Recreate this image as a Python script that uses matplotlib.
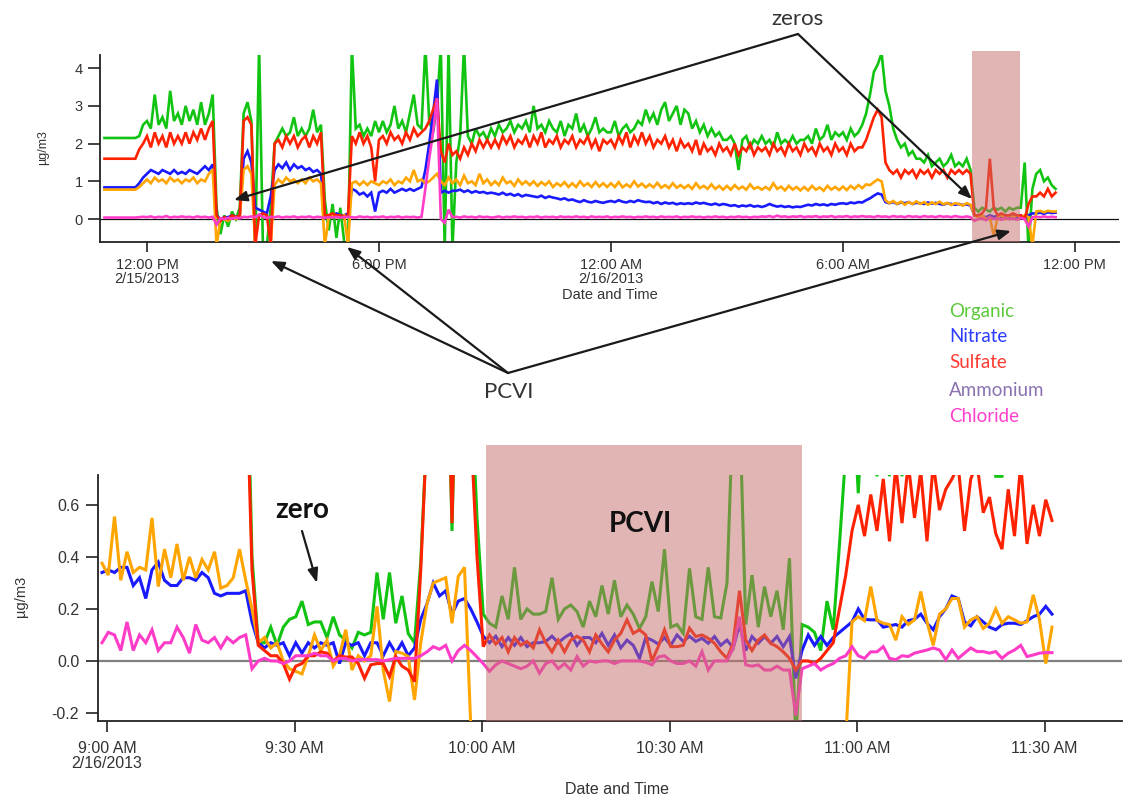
import numpy as np
import matplotlib
matplotlib.use("Agg")
import matplotlib.pyplot as plt

# ---------------- data: top panel (hours after 12:00 PM 2/15/2013, 0.1 h steps) ----------------
top_t0 = -1.1
top_step = 0.1
top_organic = [
    2.15, 2.15, 2.15, 2.15, 2.15, 2.15, 2.15, 2.15, 2.15, 2.2, 2.5,
    2.6, 2.4, 3.3, 2.5, 2.7, 2.4, 3.4, 2.6, 2.8, 2.5,
    3.0, 2.6, 2.9, 2.5, 3.1, 2.5, 2.8, 3.3, 0.3, -0.4,
    0.1, -0.2, 0.2, 0.0, 0.3, 2.8, 3.1, 2.6, -0.8, 4.6,
    -0.8, -0.7, 0.3, 2.0, 2.2, 2.4, 2.2, 2.3, 2.7, 2.2,
    2.4, 2.2, 2.4, 2.9, 2.3, 2.5, 0.5, -0.3, 0.4, -0.5,
    0.3, -0.6, -0.7, 4.6, 2.4, 2.5, 2.2, 2.4, 2.2, 2.6,
    2.3, 2.6, 2.3, 2.5, 3.0, 2.4, 2.6, 2.3, 2.8, 3.3,
    2.5, 2.4, 4.6, 2.6, 2.3, 3.0, 4.6, -0.8, 4.6, -0.8,
    1.5, 2.2, 4.6, 2.2, 2.0, 2.4, 2.2, 2.3, 2.1, 2.4,
    2.2, 2.5, 2.3, 2.4, 2.6, 2.3, 2.5, 2.4, 2.6, 2.3,
    3.0, 2.4, 2.5, 2.3, 2.6, 2.4, 2.3, 2.6, 2.2, 2.5,
    2.4, 2.8, 2.3, 2.5, 2.2, 2.4, 2.7, 2.3, 2.4, 2.3,
    2.3, 2.6, 2.2, 2.4, 2.5, 2.3, 2.4, 2.6, 2.5, 2.9,
    2.6, 2.8, 2.5, 2.9, 3.1, 2.6, 2.8, 3.0, 2.5, 2.9,
    2.8, 2.4, 2.6, 2.3, 2.5, 2.2, 2.4, 2.2, 2.3, 2.1,
    2.1, 2.2, 2.0, 1.3, 2.1, 2.2, 1.9, 2.1, 2.0, 2.2,
    2.0, 2.1, 1.9, 2.3, 2.0, 2.1, 2.0, 2.2, 2.0, 2.1,
    2.1, 2.2, 2.0, 2.4, 2.1, 2.2, 2.5, 2.1, 2.3, 2.2,
    2.3, 2.1, 2.4, 2.2, 2.3, 2.5, 2.8, 3.3, 3.9, 4.1,
    4.4, 3.4, 3.0, 2.4, 2.1, 1.9, 2.0, 1.7, 1.8, 1.6,
    1.6, 1.5, 1.7, 1.4, 1.5, 1.6, 1.4, 1.5, 1.7, 1.4,
    1.5, 1.4, 1.6, 1.3, 0.3, 0.2, 0.3, 0.25, 0.2, 0.3,
    0.25, 0.3, 0.2, 0.3, 0.25, 0.3, 0.3, 1.5, -0.8, 0.8,
    1.2, 1.3, 1.0, 1.1, 0.9, 0.8,
]
top_nitrate = [
    0.84, 0.84, 0.84, 0.84, 0.84, 0.84, 0.84, 0.84, 0.84, 0.95, 1.1,
    1.2, 1.3, 1.25, 1.2, 1.3, 1.25, 1.2, 1.3, 1.2, 1.25,
    1.2, 1.3, 1.25, 1.2, 1.3, 1.4, 1.3, 1.45, 0.1, 0.0,
    0.05, 0.05, 0.1, 0.05, 0.1, 1.6, 1.8, 1.5, 0.3, 0.25,
    0.2, 0.15, 0.6, 1.3, 1.45, 1.35, 1.5, 1.3, 1.45, 1.35,
    1.4, 1.3, 1.35, 1.25, 1.3, 1.2, 0.1, 0.1, 0.1, 0.15,
    0.1, 0.1, 0.15, 0.8, 0.75, 0.65, 0.7, 0.6, 0.7, 0.2,
    0.7, 0.75, 0.7, 0.8, 0.7, 0.75, 0.8, 0.75, 0.8, 0.75,
    0.8, 0.85, 1.3, 2.0, 2.8, 3.7, 0.7, 0.75, 0.7, 0.75,
    0.75, 0.78, 0.72, 0.76, 0.7, 0.74, 0.7, 0.72, 0.68, 0.7,
    0.68, 0.65, 0.7, 0.64, 0.67, 0.62, 0.66, 0.6, 0.64, 0.62,
    0.6, 0.58, 0.62, 0.56, 0.6, 0.57, 0.55, 0.52, 0.55, 0.5,
    0.52, 0.48, 0.45, 0.5, 0.46, 0.44, 0.48, 0.45, 0.43, 0.46,
    0.48, 0.45, 0.5, 0.46, 0.44, 0.48, 0.45, 0.5, 0.47, 0.45,
    0.46, 0.42, 0.45, 0.4, 0.44, 0.41, 0.43, 0.39, 0.42, 0.4,
    0.42, 0.4, 0.44, 0.41, 0.43, 0.4, 0.38, 0.41, 0.37, 0.4,
    0.38, 0.35, 0.37, 0.33, 0.36, 0.34, 0.37, 0.33, 0.35, 0.32,
    0.35, 0.4, 0.36, 0.33, 0.35, 0.32, 0.34, 0.31, 0.33, 0.32,
    0.35, 0.38, 0.36, 0.4, 0.37, 0.39, 0.36, 0.4, 0.38, 0.41,
    0.42, 0.4, 0.44, 0.42, 0.45, 0.44, 0.5, 0.55, 0.62, 0.68,
    0.65, 0.45, 0.42, 0.45, 0.4, 0.44, 0.42, 0.45, 0.4, 0.43,
    0.42, 0.4, 0.44, 0.41, 0.43, 0.4, 0.38, 0.42, 0.4, 0.38,
    0.4, 0.37, 0.39, 0.36, 0.1, 0.05, 0.08, 0.05, 0.1, 0.06,
    0.08, 0.05, 0.1, 0.06, 0.08, 0.05, 0.1, 0.0, 0.1, 0.15,
    0.15, 0.17, 0.14, 0.18, 0.16, 0.17,
]
top_sulfate = [
    1.6, 1.6, 1.6, 1.6, 1.6, 1.6, 1.6, 1.6, 1.6, 1.85, 2.0,
    2.2, 1.9, 2.3, 2.0, 2.2, 1.9, 2.3, 2.0, 2.2, 2.0,
    2.3, 2.0, 2.3, 2.1, 2.4, 2.1, 2.4, 2.6, 0.1, -0.05,
    0.05, 0.0, 0.1, 0.05, 0.1, 2.6, 2.7, 2.5, -0.7, 0.1,
    0.15, 0.1, -0.7, 2.0, 2.1, 1.9, 2.2, 2.0, 2.2, 1.9,
    2.1, 2.2, 1.9, 2.2, 2.0, 2.3, 0.1, 0.1, 0.15, 0.1,
    0.1, 0.05, 0.1, 2.2, 2.0, 2.3, 2.0, 2.2, 1.9, 1.0,
    2.1, 2.2, 2.0, 2.3, 2.1, 2.2, 2.0, 2.3, 2.1, 2.4,
    2.2, 2.3, 2.4, 2.6, 2.9, 3.2, 1.8, 1.5, 2.0, 1.7,
    1.8, 1.6, 1.9, 1.7, 2.0, 1.8, 2.1, 1.9, 2.1, 1.9,
    2.1, 1.9, 2.2, 2.0, 2.2, 1.9, 2.1, 2.0, 2.2, 1.9,
    2.2, 2.0, 2.3, 1.9, 2.1, 2.0, 2.2, 1.9, 2.1, 2.0,
    2.2, 1.9, 2.1, 2.0, 2.2, 1.9, 2.1, 1.8, 2.1, 2.0,
    2.1, 1.9, 2.2, 2.0, 2.3, 1.9, 2.2, 2.0, 2.3, 2.0,
    2.2, 1.9, 2.1, 2.0, 2.2, 1.9, 2.1, 1.8, 2.1, 1.9,
    2.0, 1.8, 2.1, 1.7, 2.0, 1.8, 1.9, 1.7, 2.0, 1.8,
    1.9, 1.7, 2.0, 1.7, 1.9, 1.8, 2.0, 1.7, 1.9, 1.8,
    1.9, 1.7, 2.0, 1.8, 1.9, 1.7, 2.0, 1.8, 1.9, 1.7,
    2.0, 1.8, 1.9, 1.7, 2.0, 1.8, 1.9, 1.7, 2.0, 1.8,
    1.9, 1.7, 2.0, 1.8, 1.9, 1.9, 2.1, 2.4, 2.7, 2.9,
    2.7, 1.5, 1.3, 1.2, 1.3, 1.1, 1.3, 1.2, 1.3, 1.1,
    1.3, 1.2, 1.3, 1.1, 1.3, 1.2, 1.3, 1.1, 1.3, 1.2,
    1.3, 1.2, 1.3, 1.2, 0.1, 0.1, 0.15, 0.3, 1.6, 0.3,
    0.1, 0.15, 0.1, 0.1, 0.15, 0.1, 0.1, 0.0, 0.4, 0.6,
    0.6, 0.7, 0.6, 0.8, 0.6, 0.7,
]
top_ammonium = [
    0.78, 0.78, 0.78, 0.78, 0.78, 0.78, 0.78, 0.78, 0.78, 0.85, 0.95,
    1.05, 0.95, 1.1, 1.0, 1.05, 0.95, 1.1, 1.0, 1.05, 0.95,
    1.05, 1.0, 1.1, 0.95, 1.05, 1.0, 1.2, 1.3, -0.7, 0.0,
    0.0, -0.05, 0.05, 0.0, 0.05, 1.3, 1.4, 1.2, -0.7, -0.8,
    -0.8, -0.8, -0.7, 0.9, 1.05, 0.95, 1.1, 1.0, 1.05, 0.95,
    1.05, 0.95, 1.1, 1.0, 1.05, 0.95, -0.7, 0.05, 0.1, 0.05,
    0.05, 0.1, -0.7, 0.95, 1.0, 0.9, 1.0, 0.9, 1.0, 0.95,
    0.9, 1.0, 0.95, 1.05, 0.9, 1.0, 0.95, 1.1, 1.0, 1.3,
    1.0, 1.05, 0.95, 1.0, 1.1, 1.2, 1.0, 0.9, 1.1, 0.95,
    1.05, 0.9, 1.15, 0.95, 1.0, 0.9, 1.2, 0.95, 1.05, 0.9,
    1.0, 0.9, 1.1, 0.95, 1.0, 0.88, 1.05, 0.92, 1.0, 0.9,
    1.0, 0.88, 0.98, 0.9, 1.0, 0.85, 0.95, 0.88, 0.98, 0.85,
    0.95, 0.85, 1.0, 0.88, 0.95, 0.85, 0.98, 0.86, 0.95, 0.85,
    0.95, 0.85, 0.98, 0.84, 0.92, 0.85, 1.0, 0.86, 0.94, 0.84,
    0.92, 0.84, 0.96, 0.83, 0.9, 0.82, 0.95, 0.83, 0.9, 0.82,
    0.9, 0.8, 0.95, 0.82, 0.88, 0.8, 0.92, 0.8, 0.88, 0.78,
    0.88, 0.78, 0.9, 0.8, 0.86, 0.78, 0.92, 0.8, 0.85, 0.78,
    0.85, 0.78, 0.95, 0.8, 0.86, 0.76, 0.88, 0.78, 0.85, 0.76,
    0.85, 0.76, 0.88, 0.78, 0.84, 0.75, 0.88, 0.78, 0.85, 0.77,
    0.86, 0.77, 0.88, 0.8, 0.9, 0.82, 0.92, 0.9, 0.98, 1.05,
    1.0, 0.5, 0.42, 0.48, 0.4, 0.46, 0.38, 0.45, 0.4, 0.47,
    0.4, 0.45, 0.38, 0.44, 0.4, 0.46, 0.39, 0.43, 0.37, 0.42,
    0.4, 0.36, 0.42, 0.38, 0.1, 0.05, 0.1, 0.0, 0.05, -0.45,
    0.05, 0.1, 0.0, 0.1, 0.05, 0.1, 0.05, 0.1, 0.05, -0.7,
    0.2, 0.22, 0.18, 0.22, 0.2, 0.2,
]
top_chloride = [
    0.04, 0.04, 0.04, 0.04, 0.04, 0.04, 0.04, 0.04, 0.04, 0.05, 0.06,
    0.05, 0.07, 0.04, 0.06, 0.05, 0.08, 0.04, 0.06, 0.05, 0.07,
    0.05, 0.06, 0.04, 0.07, 0.05, 0.06, 0.04, 0.06, -0.15, 0.02,
    0.0, 0.03, 0.01, 0.04, 0.02, 0.06, 0.05, 0.07, 0.05, 0.12,
    0.05, 0.03, 0.06, 0.05, 0.07, 0.04, 0.06, 0.05, 0.07, 0.04,
    0.06, 0.05, 0.07, 0.04, 0.06, 0.05, 0.03, 0.05, 0.04, 0.06,
    0.04, 0.05, 0.06, 0.05, 0.04, 0.07, 0.05, 0.06, 0.04, 0.06,
    0.05, 0.07, 0.04, 0.06, 0.05, 0.07, 0.04, 0.06, 0.05, 0.06,
    0.04, 0.06, 0.8, 1.6, 2.3, 3.2, 0.0, -0.1, 0.25, 0.05,
    0.06, 0.04, 0.07, 0.05, 0.06, 0.04, 0.07, 0.05, 0.06, 0.04,
    0.05, 0.07, 0.04, 0.06, 0.05, 0.07, 0.05, 0.06, 0.04, 0.06,
    0.05, 0.07, 0.04, 0.06, 0.05, 0.06, 0.04, 0.07, 0.05, 0.06,
    0.05, 0.07, 0.05, 0.06, 0.04, 0.07, 0.05, 0.06, 0.05, 0.07,
    0.04, 0.06, 0.05, 0.07, 0.05, 0.06, 0.04, 0.06, 0.05, 0.07,
    0.05, 0.06, 0.04, 0.07, 0.05, 0.06, 0.05, 0.07, 0.04, 0.06,
    0.05, 0.07, 0.05, 0.06, 0.04, 0.06, 0.05, 0.07, 0.05, 0.06,
    0.04, 0.06, 0.05, 0.07, 0.05, 0.06, 0.04, 0.06, 0.05, 0.07,
    0.06, 0.08, 0.05, 0.09, 0.06, 0.07, 0.05, 0.07, 0.06, 0.08,
    0.05, 0.07, 0.06, 0.08, 0.05, 0.07, 0.06, 0.08, 0.05, 0.07,
    0.06, 0.08, 0.05, 0.07, 0.06, 0.08, 0.06, 0.07, 0.05, 0.08,
    0.06, 0.07, 0.05, 0.08, 0.06, 0.07, 0.05, 0.08, 0.06, 0.07,
    0.05, 0.08, 0.06, 0.07, 0.05, 0.08, 0.06, 0.07, 0.05, 0.08,
    0.06, 0.05, 0.07, 0.05, -0.05, 0.0, 0.02, -0.03, 0.05, 0.0,
    0.02, -0.02, 0.03, 0.0, 0.02, -0.02, 0.03, 0.0, -0.2, 0.05,
    0.06, 0.05, 0.07, 0.05, 0.06, 0.05,
]
top_tick_hours = [0, 6, 12, 18, 24]
top_tick_labels = ["12:00 PM\n2/15/2013", "6:00 PM", "12:00 AM\n2/16/2013", "6:00 AM", "12:00 PM"]
top_yticks = [0, 1, 2, 3, 4]
top_shade_hours = (21.34, 22.58)

# ---------------- data: bottom panel (minutes after 9:00 AM 2/16/2013, 1 min steps) ----------------
bot_t0 = -0.8
bot_step = 1.0
nan = float("nan")
bot_organic = [
    1.4, 1.4, 1.4, 1.4, 1.4, 1.4, 1.4, 1.4, 1.4, 1.4, 1.4, 1.4, 1.4, 1.4, 1.4, 1.4, 1.4, 1.4, 1.4, 1.4, 1.4, 1.4, 1.4, 1.4,
    0.4, 0.07, 0.07, 0.13, 0.06, 0.13, 0.16, 0.17, 0.23, 0.14, 0.15, 0.15, 0.09, 0.17, 0.1,
    0.08, 0.05, 0.11, 0.1, 0.11, 0.34, 0.16, 0.34, 0.145, 0.25, 0.105, 0.07, 0.38, 0.9, 1.5, 1.5, 1.5, 0.5, 1.5, 1.5, 1.1, 0.55,
    0.18, 0.145, 0.13, 0.25, 0.16, 0.36, 0.16, 0.2, 0.18, 0.18, 0.19, 0.32, 0.16, 0.2, 0.215, 0.19, 0.13,
    0.23, 0.17, 0.29, 0.18, 0.31, 0.17, 0.215, 0.18, 0.125, 0.17, 0.305, 0.19, 0.43, 0.13, 0.14, 0.106, 0.356, 0.17,
    0.16, 0.36, 0.17, 0.165, 0.3, 1.0, 1.0, 0.14, 0.33, 0.13, 0.286, 0.17, 0.27, 0.12, 0.395, -0.3, 0.14,
    0.13, 0.11, 0.04, 0.23, 0.12, 0.45, 0.8, 1.1, 0.645, 1.1, 0.9, 0.71, 1.0, 0.71, 1.1, 0.71, 1.0, 1.2, 1.0, 1.1,
    1.3, 1.0, 1.2, 1.1, 1.3, 1.0, 1.2, 1.1, 1.0, 1.2, 0.71, 0.71, 1.1, 1.0, 1.2, 1.0, 1.1, 1.0, 1.2, 1.1,
]
bot_nitrate = [
    0.34, 0.35, 0.34, 0.36, 0.36, 0.29, 0.32, 0.24, 0.35, 0.38, 0.31, 0.29, 0.29, 0.32, 0.32, 0.31, 0.34, 0.32, 0.26, 0.25, 0.26, 0.26, 0.26, 0.27,
    0.15, 0.07, 0.05, 0.07, 0.06, 0.07, 0.02, 0.07, 0.03, 0.07, 0.05, 0.07, 0.06, 0.07, -0.01,
    0.07, 0.06, 0.07, 0.02, 0.07, 0.07, 0.02, 0.07, 0.03, 0.07, 0.02, 0.05, 0.16, 0.22, 0.3, 0.25, 0.27, 0.18, 0.23, 0.24, 0.2, 0.15,
    0.095, 0.07, 0.095, 0.055, 0.09, 0.06, 0.09, 0.055, 0.07, 0.07, 0.075, 0.095, 0.07, 0.09, 0.105, 0.06, 0.09,
    0.09, 0.07, 0.106, 0.06, 0.1, 0.05, 0.08, 0.06, 0.01, 0.09, 0.08, 0.065, 0.09, 0.06, 0.1, 0.075, 0.095, 0.075,
    0.087, 0.068, 0.094, 0.06, 0.08, 0.05, 0.14, 0.04, 0.094, 0.068, 0.094, 0.068, 0.094, 0.055, 0.094, -0.067, 0.04,
    0.1, 0.06, 0.094, 0.06, 0.09, 0.11, 0.13, 0.15, 0.2, 0.16, 0.158, 0.158, 0.13, 0.135, 0.14, 0.13, 0.155, 0.16, 0.18, 0.145,
    0.12, 0.17, 0.2, 0.25, 0.24, 0.15, 0.135, 0.17, 0.15, 0.13, 0.12, 0.14, 0.145, 0.145, 0.14, 0.155, 0.17, 0.18, 0.21, 0.18,
]
bot_sulfate = [
    1.2, 1.2, 1.2, 1.2, 1.2, 1.2, 1.2, 1.2, 1.2, 1.2, 1.2, 1.2, 1.2, 1.2, 1.2, 1.2, 1.2, 1.2, 1.2, 1.2, 1.2, 1.2, 1.2, 1.2,
    0.35, 0.06, 0.04, 0.02, 0.02, -0.01, -0.07, -0.02, -0.01, 0.02, 0.02, 0.035, 0.03, 0.0, 0.02,
    0.015, 0.015, -0.01, -0.067, -0.015, -0.01, -0.01, -0.06, 0.017, -0.02, -0.035, -0.08, 0.35, 0.9, 1.5, 1.5, 1.5, 0.53, 1.5, 1.5, 0.9, 0.4,
    0.055, 0.1, 0.065, 0.09, 0.035, 0.09, 0.06, 0.075, 0.05, 0.12, 0.07, 0.035, 0.08, 0.035, 0.08, 0.095, 0.08,
    0.035, 0.1, 0.065, 0.035, 0.08, 0.106, 0.158, 0.106, 0.12, 0.1, 0.0, 0.055, 0.12, 0.055, 0.055, 0.06, 0.126, 0.094,
    0.1, 0.087, 0.068, 0.035, 0.01, 0.07, 0.27, 0.08, 0.04, 0.08, 0.1, 0.068, 0.055, 0.035, 0.01, -0.035, 0.0,
    0.0, -0.01, 0.01, 0.04, 0.07, 0.2, 0.33, 0.5, 0.6, 0.48, 0.64, 0.5, 0.7, 0.46, 0.75, 0.53, 0.76, 0.55, 0.73, 0.46,
    0.76, 0.58, 0.66, 0.7, 0.75, 0.5, 0.7, 0.76, 0.57, 0.63, 0.49, 0.43, 0.66, 0.48, 0.76, 0.45, 0.6, 0.48, 0.62, 0.54,
]
bot_ammonium = [
    0.376, 0.33, 0.555, 0.31, 0.42, 0.34, 0.36, 0.35, 0.55, 0.286, 0.43, 0.32, 0.45, 0.31, 0.40, 0.32, 0.39, 0.35, 0.42, 0.28, 0.29, 0.32, 0.43, 0.31,
    0.2, 0.07, 0.09, 0.05, 0.07, 0.0, -0.03, -0.04, -0.05, 0.02, 0.1, 0.04, 0.08, -0.02, 0.02,
    0.12, -0.035, 0.02, 0.0, 0.02, 0.21, -0.035, -0.156, 0.036, 0.03, 0.017, -0.15, 0.07, 0.22, 0.3, 0.31, 0.32, 0.145, 0.325, 0.36, -0.25, nan,
    nan, nan, nan, nan, nan, nan, nan, nan, nan, nan, nan, nan, nan, nan, nan, nan, nan,
    nan, nan, nan, nan, nan, nan, nan, nan, nan, nan, nan, nan, nan, nan, nan, nan, nan, nan,
    nan, nan, nan, nan, nan, nan, nan, nan, nan, nan, nan, nan, nan, nan, nan, nan, nan,
    nan, nan, nan, nan, nan, nan, -0.3, 0.15, 0.17, 0.155, 0.286, 0.156, 0.145, 0.14, 0.08, 0.17, 0.14, 0.158, 0.267, 0.15,
    0.06, 0.18, 0.2, 0.24, 0.24, 0.13, 0.158, 0.17, 0.125, 0.145, 0.2, 0.145, 0.17, 0.158, 0.145, 0.15, 0.254, 0.158, -0.01, 0.13,
]
bot_chloride = [
    0.07, 0.11, 0.1, 0.04, 0.15, 0.04, 0.1, 0.07, 0.12, 0.04, 0.07, 0.07, 0.13, 0.09, 0.03, 0.14, 0.08, 0.07, 0.09, 0.05, 0.09, 0.07, 0.09, 0.1,
    -0.03, 0.0, 0.01, 0.0, 0.0, -0.01, 0.0, 0.02, 0.02, 0.02, 0.03, 0.02, 0.02, 0.0, 0.01,
    0.01, 0.0, 0.005, 0.005, 0.005, 0.005, 0.0, 0.005, 0.01, 0.01, 0.01, 0.01, 0.02, 0.035, 0.055, 0.045, 0.06, 0.0, 0.04, 0.06, 0.04, 0.015,
    -0.01, -0.04, -0.015, 0.0, -0.01, -0.02, -0.03, -0.02, 0.0, -0.047, -0.01, 0.0, -0.03, -0.01, -0.035, 0.017, -0.02,
    0.0, -0.005, 0.0, 0.0, -0.01, 0.0, 0.0, 0.0, 0.0, -0.005, -0.015, 0.015, 0.02, 0.0, -0.01, -0.01, 0.0, -0.02,
    0.036, -0.035, 0.0, 0.0, 0.0, 0.05, 0.17, -0.015, -0.02, -0.015, -0.035, -0.035, -0.02, -0.035, -0.035, -0.21, -0.03,
    -0.02, -0.01, -0.035, -0.02, -0.01, 0.01, 0.02, 0.055, 0.02, 0.01, 0.035, 0.035, 0.055, 0.01, 0.005, 0.02, 0.017, 0.03, 0.036, 0.042,
    0.05, 0.042, 0.005, 0.042, 0.01, 0.03, 0.05, 0.036, 0.036, 0.03, 0.036, 0.01, 0.03, 0.042, 0.06, 0.017, 0.023, 0.03, 0.032, 0.032,
]
bot_tick_minutes = [0, 30, 60, 90, 120, 150]
bot_tick_labels = ["9:00 AM\n2/16/2013", "9:30 AM", "10:00 AM", "10:30 AM", "11:00 AM", "11:30 AM"]
bot_yticks = [-0.2, 0.0, 0.2, 0.4, 0.6]
bot_shade_minutes = (60.6, 111.2)

species = ["Organic", "Nitrate", "Sulfate", "Ammonium", "Chloride"]
line_colors = {"Organic": "#12c412", "Nitrate": "#1a1aff", "Sulfate": "#ff2200",
               "Ammonium": "#ffa500", "Chloride": "#ff3cc8"}
legend_colors = {"Organic": "#5cc83c", "Nitrate": "#2b3bff", "Sulfate": "#ff3b30",
                 "Ammonium": "#8a72b0", "Chloride": "#ff40cc"}

# ---------------- figure ----------------
plt.rcParams["font.family"] = ["Liberation Sans", "DejaVu Sans"]
W, H = 1125, 796
fig = plt.figure(figsize=(W / 100, H / 100), dpi=100)
fig.patch.set_facecolor("white")


def px_axes(l, t, r, b, **kw):
    return fig.add_axes([l / W, 1 - b / H, (r - l) / W, (b - t) / H], **kw)


def style_axes(ax, fs, xlen, ylen, xpad, ypad):
    for s in ("top", "right"):
        ax.spines[s].set_visible(False)
    for s in ("left", "bottom"):
        ax.spines[s].set_linewidth(1.3)
        ax.spines[s].set_color("#222222")
    ax.tick_params(axis="x", direction="out", length=xlen, width=1.2, pad=xpad,
                   labelsize=fs, colors="#222222", labelcolor="#333333")
    ax.tick_params(axis="y", direction="out", length=ylen, width=1.2, pad=ypad,
                   labelsize=fs, colors="#222222", labelcolor="#333333")


order = ["Organic", "Nitrate", "Ammonium", "Sulfate", "Chloride"]

# ---- top panel ----
ax1 = px_axes(100, 55, 1119, 241.7)
top_series = {"Organic": top_organic, "Nitrate": top_nitrate, "Sulfate": top_sulfate,
              "Ammonium": top_ammonium, "Chloride": top_chloride}
top_t = top_t0 + top_step * np.arange(len(top_organic))
for z, name in enumerate(order):
    ax1.plot(top_t, top_series[name], color=line_colors[name], lw=1.9, zorder=2 + z,
             solid_joinstyle="miter")
ax1.axhline(0, color="#111111", lw=0.9, zorder=1)
ax1.set_xlim(-1.215, 25.14)
ax1.set_ylim(-0.60, 4.35)
ax1.set_xticks(top_tick_hours)
ax1.set_xticklabels(top_tick_labels, linespacing=0.95)
ax1.set_yticks(top_yticks)
style_axes(ax1, 10.5, 7.5, 9, 4.5, 3.5)
ax1.axvspan(top_shade_hours[0], top_shade_hours[1], ymin=0, ymax=(4.46 + 0.60) / (4.35 + 0.60),
            facecolor=(199 / 255, 109 / 255, 109 / 255), alpha=0.5, lw=0, zorder=10, clip_on=False)

# ---- bottom panel ----
ax2 = px_axes(98, 475, 1122, 720.5)
bot_series = {"Organic": bot_organic, "Nitrate": bot_nitrate, "Sulfate": bot_sulfate,
              "Ammonium": bot_ammonium, "Chloride": bot_chloride}
bot_t = bot_t0 + bot_step * np.arange(len(bot_organic))
for z, name in enumerate(order):
    ax2.plot(bot_t, bot_series[name], color=line_colors[name], lw=2.2, zorder=2 + z,
             solid_joinstyle="miter")
ax2.axhline(0, color="#808080", lw=1.6, zorder=1)
ax2.set_xlim(-1.44, 162.4)
ax2.set_ylim(-0.229, 0.715)
ax2.set_xticks(bot_tick_minutes)
ax2.set_xticklabels(bot_tick_labels, linespacing=0.95)
ax2.set_yticks(bot_yticks)
ax2.set_yticklabels([f"{v:.1f}" for v in bot_yticks])
style_axes(ax2, 11.5, 8, 8.5, 7, 5)
ax2.axvspan(bot_shade_minutes[0], bot_shade_minutes[1], ymin=0, ymax=(0.83 + 0.229) / (0.715 + 0.229),
            facecolor=(199 / 255, 109 / 255, 109 / 255), alpha=0.5, lw=0, zorder=10, clip_on=False)

# ---- axis titles ----
fig.text(610 / W, 1 - 295 / H, "Date and Time", ha="center", va="center", fontsize=10.5, color="#333333")
fig.text(617 / W, 1 - 789 / H, "Date and Time", ha="center", va="center", fontsize=11.5, color="#333333")
fig.text(43 / W, 1 - 148 / H, "µg/m3", ha="center", va="center", rotation=90, fontsize=9, color="#333333")
fig.text(21 / W, 1 - 596 / H, "µg/m3", ha="center", va="center", rotation=90, fontsize=10.5, color="#333333")

# ---- annotation overlay (figure pixel coordinates) ----
ov = fig.add_axes([0, 0, 1, 1], zorder=20)
ov.set_xlim(0, W)
ov.set_ylim(H, 0)
ov.axis("off")
ov.patch.set_alpha(0)

arrow_kw = dict(arrowstyle="-|>,head_length=0.55,head_width=0.22", color="#1a1a1a", lw=1.6,
                shrinkA=0, shrinkB=0, mutation_scale=14)
zeros_apex = (798, 34)
for tip in [(234, 200), (972, 199)]:
    ov.annotate("", xy=tip, xytext=zeros_apex, arrowprops=arrow_kw)
ov.text(797, 19, "zeros", ha="center", va="center", fontsize=16, family=["Lato", "DejaVu Sans"],
        color="#333333")

pcvi_apex = (508, 373)
for tip in [(271, 261), (347, 247), (1011, 231)]:
    ov.annotate("", xy=tip, xytext=pcvi_apex, arrowprops=arrow_kw)
ov.text(509, 392, "PCVI", ha="center", va="center", fontsize=16, family=["Lato", "DejaVu Sans"],
        color="#333333")

# bottom annotations
ov.text(302, 510, "zero", ha="center", va="center", fontsize=20, fontweight="bold",
        family=["Lato", "DejaVu Sans"], color="#111111")
ov.annotate("", xy=(317, 583), xytext=(302, 531),
            arrowprops=dict(arrowstyle="-|>,head_length=0.6,head_width=0.22", color="#1a1a1a",
                            lw=1.6, shrinkA=0, shrinkB=0, mutation_scale=14))
ov.text(640, 524, "PCVI", ha="center", va="center", fontsize=20, fontweight="bold",
        family=["Lato", "DejaVu Sans"], color="#111111")

# legend text
leg_y = [311, 337, 363, 390, 417]
for name, y in zip(species, leg_y):
    ov.text(949, y, name, ha="left", va="center", fontsize=13.5, family=["Lato", "DejaVu Sans"],
            color=legend_colors[name])

fig.savefig("out.png", dpi=100, facecolor="white")
